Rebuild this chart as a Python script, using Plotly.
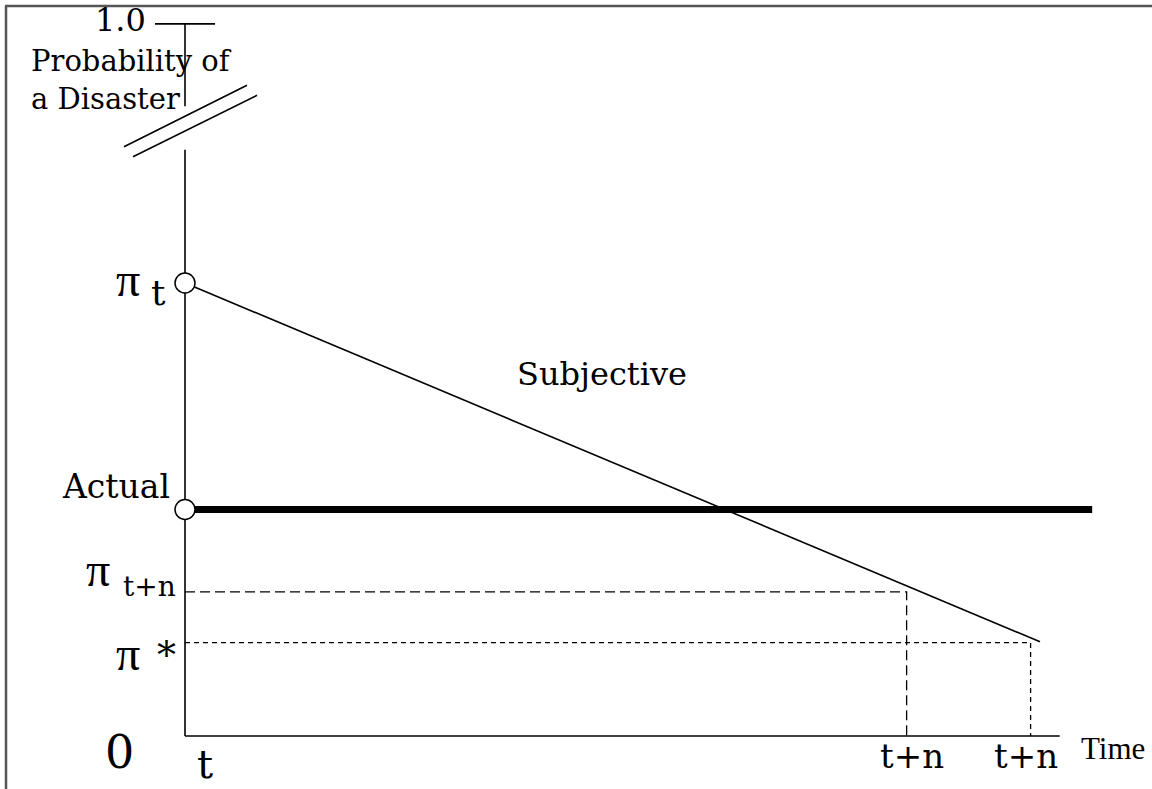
import plotly.graph_objects as go

# diagram values: time in arbitrary units, probability of a disaster
times = [0.0, 8.44, 9.89]            # t, t+n, t+n
time_labels = ['t', 't+n', 't+n']
subjective_x = [0.0, 10.0]
subjective_y = [0.50, 0.104]
actual_x = [0.0, 10.61]
actual_y = [0.25, 0.25]
pi_tn = 0.159
pi_star = 0.103
axis_top = 0.786                     # the "1.0" level, drawn above the axis break
axis_break = [0.647, 0.695]
time_axis_end = 10.23

# pixels per data unit
SX = 85.5
SY = 906.0
W, H = 1152, 789
ox, oy = 185, 736   # pixel position of the origin

serif = 'DejaVu Serif'
greek = 'Liberation Serif'
thin = dict(color='black', width=1.6)

fig = go.Figure()


def seg(x, y, line):
    fig.add_trace(go.Scatter(x=x, y=y, mode='lines', line=line,
                             hoverinfo='skip', showlegend=False))


# vertical axis with a break
seg([0, 0], [0, axis_break[0]], thin)
seg([0, 0], [axis_break[1], axis_top], thin)
seg([-30 / SX, 30 / SX], [axis_top, axis_top], thin)
# break marks
seg([-61 / SX, 62 / SX], [axis_break[0] + 3 / SY, axis_break[1] + 21 / SY], thin)
seg([-52 / SX, 72 / SX], [axis_break[0] - 7 / SY, axis_break[1] + 11 / SY], thin)

# time axis
seg([0, time_axis_end], [0, 0], thin)

# guide lines
seg([0, times[1], times[1]], [pi_tn, pi_tn, 0], dict(color='black', width=1.3, dash='10px,5px'))
seg([0, times[2], times[2]], [pi_star, pi_star, 0], dict(color='black', width=1.3, dash='5px,4px'))

# subjective and actual probabilities
seg(subjective_x, subjective_y, thin)
seg(actual_x, actual_y, dict(color='black', width=7))

fig.add_trace(go.Scatter(x=[subjective_x[0], actual_x[0]], y=[subjective_y[0], actual_y[0]],
                         mode='markers', hoverinfo='skip', showlegend=False,
                         marker=dict(size=20, color='white', line=dict(color='black', width=1.5))))


def label(text, x, y, dx, dy, size, family=serif, **kw):
    fig.add_annotation(x=x, y=y, text=text, showarrow=False, xshift=dx, yshift=dy,
                       font=dict(family=family, size=size, color='black'), **kw)


label('1.0', 0, axis_top, -37, 4, 32, xanchor='right')
label('Probability of<br>a Disaster', 0, axis_top, -156, -56, 29, xanchor='left', align='left')
label('π', 0, subjective_y[0], -57, 4, 48, family=greek)
label('t', 0, subjective_y[0], -27, -9, 36)
label('Actual', 0, actual_y[0], -69, 23, 33)
label('π', 0, pi_tn, -87, 22, 48, family=greek)
label('t+n', 0, pi_tn, -36, 5, 28)
label('π', 0, pi_star, -57, -11, 48, family=greek)
label('*', 0, pi_star, -19, -12, 38)
label('Subjective', 4.877, 0.3996, 0, 0, 32)
label('0', 0, 0, -66, -16, 46)
for xv, tl in zip(times, time_labels):
    if tl == 't':
        label(tl, xv, 0, 20, -28, 40)
    else:
        label(tl, xv, 0, 5 if xv < times[2] else -5, -20, 34)
label('Time', time_axis_end, 0, 53, -12, 31, family='Liberation Serif')

# frame lines on the top and left edges
fig.add_shape(type='line', xref='paper', yref='paper', x0=5 / W, x1=1, y0=1 - 6 / H, y1=1 - 6 / H,
              line=dict(color='#555', width=2.5))
fig.add_shape(type='line', xref='paper', yref='paper', x0=6 / W, x1=6 / W, y0=0, y1=1 - 6 / H,
              line=dict(color='#555', width=2.5))

fig.update_xaxes(visible=False, range=[-ox / SX, (W - ox) / SX])
fig.update_yaxes(visible=False, range=[-(H - oy) / SY, oy / SY])
fig.update_layout(width=W, height=H, margin=dict(l=0, r=0, t=0, b=0),
                  paper_bgcolor='white', plot_bgcolor='white')

fig.write_html('out.html', config={'displayModeBar': False},
               post_script="document.body.style.margin='0';document.body.style.overflow='hidden';")
